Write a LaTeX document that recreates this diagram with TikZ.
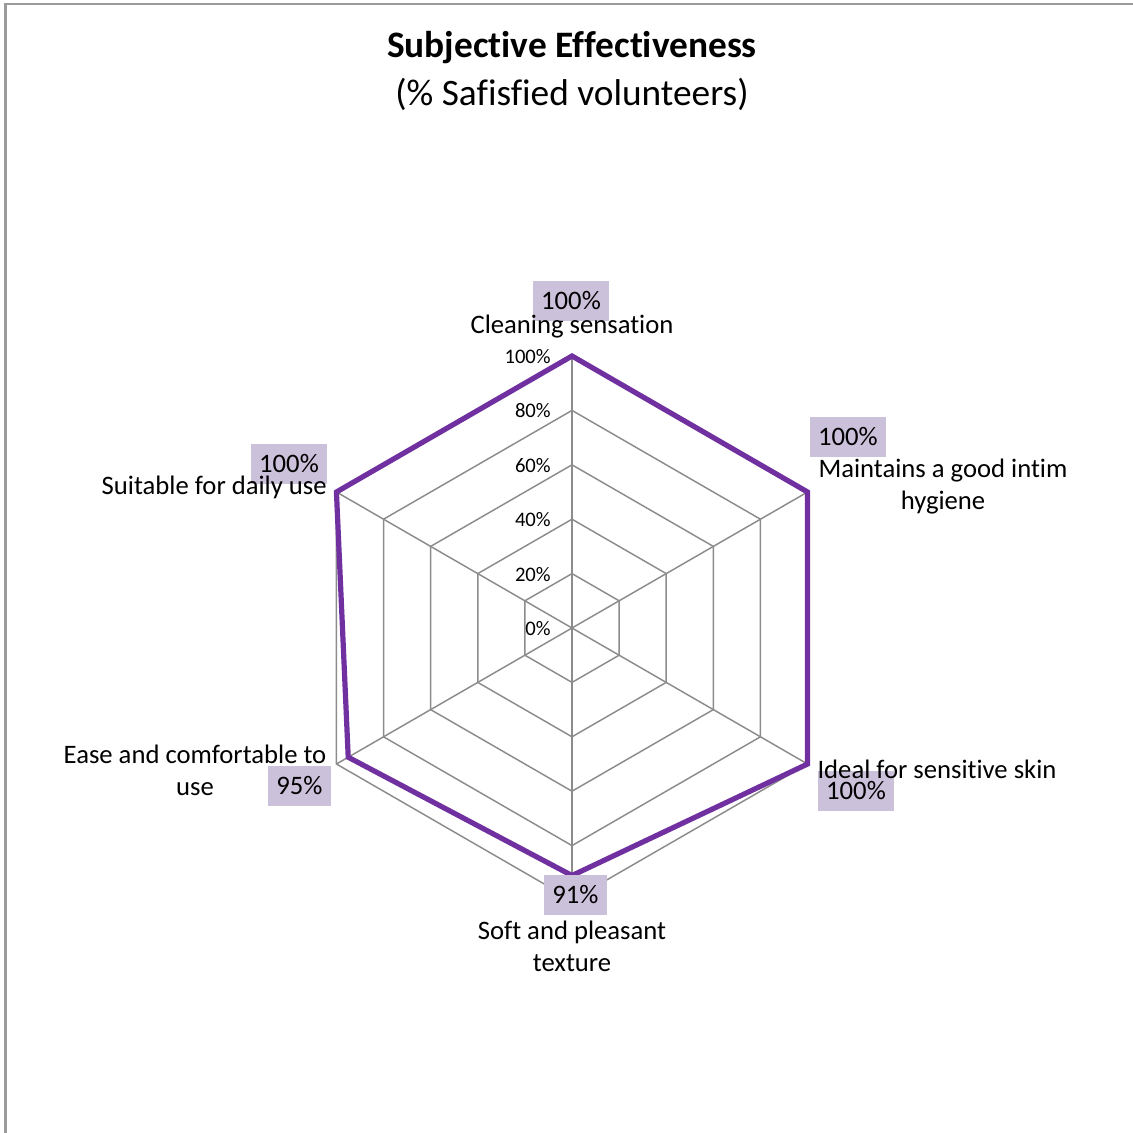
\documentclass[tikz,border=0pt]{standalone}
\usepackage{fontspec}
\setmainfont{Carlito}[Ligatures={NoCommon,NoContextual}, RawFeature={-liga;-clig;-dlig}]
\definecolor{gridgray}{HTML}{8C8C8C}
\definecolor{framegray}{HTML}{9A9A9A}
\definecolor{linepurple}{HTML}{7030A0}
\definecolor{boxlav}{HTML}{CCC1DA}
\tikzset{
  gridline/.style={draw=gridgray, line width=1.1pt},
  dataline/.style={draw=linepurple, line width=3.9pt, line join=miter},
  catlabel/.style={font=\fontsize{20}{24}\selectfont, inner sep=0pt, align=center, text=black},
  datalabel/.style={fill=boxlav, font=\fontsize{20}{24}\selectfont, inner sep=0pt, text=black},
  ticklabel/.style={font=\fontsize{15.5}{18}\selectfont, inner sep=0pt, anchor=east, text=black},
}
\begin{document}
\begin{tikzpicture}[x=0.75pt,y=-0.75pt]
\useasboundingbox (0,0) rectangle (1133,1133);
\fill[white] (0,0) rectangle (1133,1133);
% frame
\draw[framegray, line width=1.6pt] (5.5,1133) -- (5.5,3.8) -- (1133,3.8);
% title
\node[font=\fontsize{28}{32}\selectfont\bfseries, inner sep=0pt] (title) at (572,48) {Subjective Effectiveness};
\node[font=\fontsize{28}{32}\selectfont, inner sep=0pt] (subtitle) at (572,94) {(\% Safisfied volunteers)};
% grid
\foreach \f in {0.2,0.4,0.6,0.8,1.0}{
  \draw[gridline] ({572+272*\f*cos(90)},{628-272*\f*sin(90)})
    \foreach \a in {30,-30,-90,-150,150}{ -- ({572+272*\f*cos(\a)},{628-272*\f*sin(\a)}) } -- cycle;
}
\coordinate (c) at (572,628);
\foreach \a [count=\i] in {90,30,-30,-90,-150,150}{
  \coordinate (ax\i) at ({572+272*cos(\a)},{628-272*sin(\a)});
  \draw[gridline] (c) -- (ax\i);
}
% tick labels
\foreach \v/\t in {0/0\%,1/20\%,2/40\%,3/60\%,4/80\%,5/100\%}{
  \node[ticklabel] (tick\v) at (551,{628.5-54.4*\v}) {\t};
}
% data
\coordinate (p1) at ({572+272*1.00*cos(90)},{628-272*1.00*sin(90)});
\coordinate (p2) at ({572+272*1.00*cos(30)},{628-272*1.00*sin(30)});
\coordinate (p3) at ({572+272*1.00*cos(-30)},{628-272*1.00*sin(-30)});
\coordinate (p4) at ({572+272*0.91*cos(-90)},{628-272*0.91*sin(-90)});
\coordinate (p5) at ({572+272*0.95*cos(-150)},{628-272*0.95*sin(-150)});
\coordinate (p6) at ({572+272*1.00*cos(150)},{628-272*1.00*sin(150)});
\draw[dataline] (p1) -- (p2) -- (p3) -- (p4) -- (p5) -- (p6) -- cycle;
% data labels
\node[datalabel, minimum width=76*0.75pt, minimum height=40*0.75pt] (d1) at (571,301) {100\%};
\node[datalabel, minimum width=76*0.75pt, minimum height=40*0.75pt, text width=60*0.75pt, align=left] (d2) at (848,437) {100\%};
\node[datalabel, minimum width=76*0.75pt, minimum height=40*0.75pt] (d3) at (856,791) {100\%};
\node[datalabel, minimum width=63*0.75pt, minimum height=40*0.75pt] (d4) at (575.5,895) {91\%};
\node[datalabel, minimum width=63*0.75pt, minimum height=40*0.75pt] (d5) at (299.5,786) {95\%};
\node[datalabel, minimum width=76*0.75pt, minimum height=40*0.75pt] (d6) at (289,464) {100\%};
% category labels
\node[catlabel] (l1) at (572,327) {Cleaning sensation};
\node[catlabel] (l2) at (943,487) {Maintains a good intim\\hygiene};
\node[catlabel] (l3) at (937,769) {Ideal for sensitive skin};
\node[catlabel] (l4) at (572,946) {Soft and pleasant\\texture};
\node[catlabel] (l5) at (195,770.5) {Ease and comfortable to\\use};
\node[catlabel, anchor=east] (l6) at (327,487) {Suitable for daily use};
\end{tikzpicture}
\end{document}
